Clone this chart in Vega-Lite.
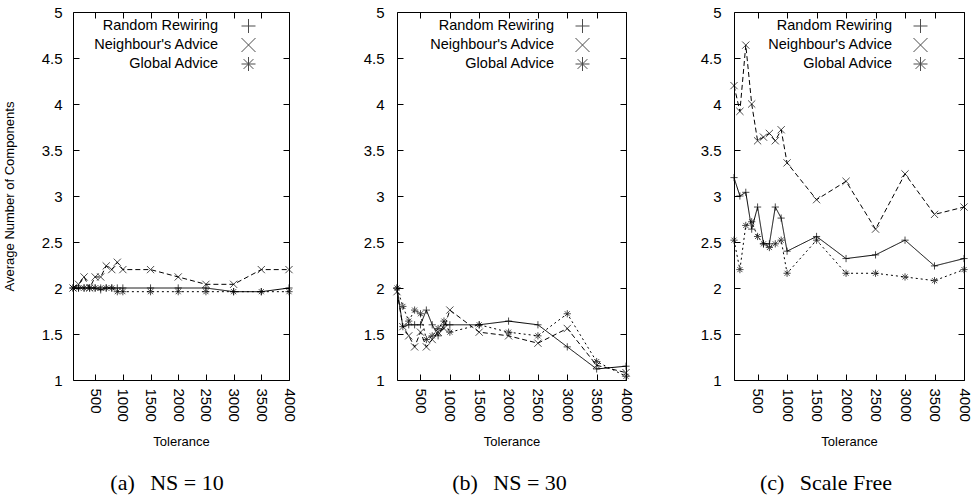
{
  "$schema": "https://vega.github.io/schema/vega-lite/v6.json",
  "padding": {"left": 2, "top": 4, "right": 2, "bottom": 2},
  "background": "white",
  "datasets": {
    "d": [
      {"panel":"a","series":"Random Rewiring","tolerance":100,"value":2.0},
      {"panel":"a","series":"Random Rewiring","tolerance":200,"value":2.0},
      {"panel":"a","series":"Random Rewiring","tolerance":300,"value":2.0},
      {"panel":"a","series":"Random Rewiring","tolerance":400,"value":2.0},
      {"panel":"a","series":"Random Rewiring","tolerance":500,"value":2.0},
      {"panel":"a","series":"Random Rewiring","tolerance":600,"value":1.98},
      {"panel":"a","series":"Random Rewiring","tolerance":700,"value":2.0},
      {"panel":"a","series":"Random Rewiring","tolerance":800,"value":2.0},
      {"panel":"a","series":"Random Rewiring","tolerance":900,"value":2.0},
      {"panel":"a","series":"Random Rewiring","tolerance":1000,"value":2.0},
      {"panel":"a","series":"Random Rewiring","tolerance":1500,"value":2.0},
      {"panel":"a","series":"Random Rewiring","tolerance":2000,"value":2.0},
      {"panel":"a","series":"Random Rewiring","tolerance":2500,"value":2.0},
      {"panel":"a","series":"Random Rewiring","tolerance":3000,"value":1.96},
      {"panel":"a","series":"Random Rewiring","tolerance":3500,"value":1.96},
      {"panel":"a","series":"Random Rewiring","tolerance":4000,"value":2.0},
      {"panel":"a","series":"Neighbour's Advice","tolerance":100,"value":2.0},
      {"panel":"a","series":"Neighbour's Advice","tolerance":200,"value":2.04},
      {"panel":"a","series":"Neighbour's Advice","tolerance":300,"value":2.12},
      {"panel":"a","series":"Neighbour's Advice","tolerance":400,"value":2.0},
      {"panel":"a","series":"Neighbour's Advice","tolerance":500,"value":2.12},
      {"panel":"a","series":"Neighbour's Advice","tolerance":600,"value":2.12},
      {"panel":"a","series":"Neighbour's Advice","tolerance":700,"value":2.24},
      {"panel":"a","series":"Neighbour's Advice","tolerance":800,"value":2.2},
      {"panel":"a","series":"Neighbour's Advice","tolerance":900,"value":2.28},
      {"panel":"a","series":"Neighbour's Advice","tolerance":1000,"value":2.2},
      {"panel":"a","series":"Neighbour's Advice","tolerance":1500,"value":2.2},
      {"panel":"a","series":"Neighbour's Advice","tolerance":2000,"value":2.12},
      {"panel":"a","series":"Neighbour's Advice","tolerance":2500,"value":2.04},
      {"panel":"a","series":"Neighbour's Advice","tolerance":3000,"value":2.04},
      {"panel":"a","series":"Neighbour's Advice","tolerance":3500,"value":2.2},
      {"panel":"a","series":"Neighbour's Advice","tolerance":4000,"value":2.2},
      {"panel":"a","series":"Global Advice","tolerance":100,"value":2.0},
      {"panel":"a","series":"Global Advice","tolerance":200,"value":2.0},
      {"panel":"a","series":"Global Advice","tolerance":300,"value":2.0},
      {"panel":"a","series":"Global Advice","tolerance":400,"value":2.0},
      {"panel":"a","series":"Global Advice","tolerance":500,"value":2.0},
      {"panel":"a","series":"Global Advice","tolerance":600,"value":2.0},
      {"panel":"a","series":"Global Advice","tolerance":700,"value":2.0},
      {"panel":"a","series":"Global Advice","tolerance":800,"value":2.0},
      {"panel":"a","series":"Global Advice","tolerance":900,"value":1.96},
      {"panel":"a","series":"Global Advice","tolerance":1000,"value":1.96},
      {"panel":"a","series":"Global Advice","tolerance":1500,"value":1.96},
      {"panel":"a","series":"Global Advice","tolerance":2000,"value":1.96},
      {"panel":"a","series":"Global Advice","tolerance":2500,"value":1.96},
      {"panel":"a","series":"Global Advice","tolerance":3000,"value":1.96},
      {"panel":"a","series":"Global Advice","tolerance":3500,"value":1.96},
      {"panel":"a","series":"Global Advice","tolerance":4000,"value":1.96},

      {"panel":"b","series":"Random Rewiring","tolerance":100,"value":2.0},
      {"panel":"b","series":"Random Rewiring","tolerance":200,"value":1.58},
      {"panel":"b","series":"Random Rewiring","tolerance":300,"value":1.6},
      {"panel":"b","series":"Random Rewiring","tolerance":400,"value":1.6},
      {"panel":"b","series":"Random Rewiring","tolerance":500,"value":1.6},
      {"panel":"b","series":"Random Rewiring","tolerance":600,"value":1.76},
      {"panel":"b","series":"Random Rewiring","tolerance":700,"value":1.6},
      {"panel":"b","series":"Random Rewiring","tolerance":800,"value":1.48},
      {"panel":"b","series":"Random Rewiring","tolerance":900,"value":1.6},
      {"panel":"b","series":"Random Rewiring","tolerance":1000,"value":1.6},
      {"panel":"b","series":"Random Rewiring","tolerance":1500,"value":1.6},
      {"panel":"b","series":"Random Rewiring","tolerance":2000,"value":1.64},
      {"panel":"b","series":"Random Rewiring","tolerance":2500,"value":1.6},
      {"panel":"b","series":"Random Rewiring","tolerance":3000,"value":1.36},
      {"panel":"b","series":"Random Rewiring","tolerance":3500,"value":1.12},
      {"panel":"b","series":"Random Rewiring","tolerance":4000,"value":1.15},
      {"panel":"b","series":"Neighbour's Advice","tolerance":100,"value":1.96},
      {"panel":"b","series":"Neighbour's Advice","tolerance":200,"value":1.58},
      {"panel":"b","series":"Neighbour's Advice","tolerance":300,"value":1.48},
      {"panel":"b","series":"Neighbour's Advice","tolerance":400,"value":1.36},
      {"panel":"b","series":"Neighbour's Advice","tolerance":500,"value":1.52},
      {"panel":"b","series":"Neighbour's Advice","tolerance":600,"value":1.36},
      {"panel":"b","series":"Neighbour's Advice","tolerance":700,"value":1.44},
      {"panel":"b","series":"Neighbour's Advice","tolerance":800,"value":1.52},
      {"panel":"b","series":"Neighbour's Advice","tolerance":900,"value":1.56},
      {"panel":"b","series":"Neighbour's Advice","tolerance":1000,"value":1.76},
      {"panel":"b","series":"Neighbour's Advice","tolerance":1500,"value":1.52},
      {"panel":"b","series":"Neighbour's Advice","tolerance":2000,"value":1.48},
      {"panel":"b","series":"Neighbour's Advice","tolerance":2500,"value":1.4},
      {"panel":"b","series":"Neighbour's Advice","tolerance":3000,"value":1.56},
      {"panel":"b","series":"Neighbour's Advice","tolerance":3500,"value":1.16},
      {"panel":"b","series":"Neighbour's Advice","tolerance":4000,"value":1.08},
      {"panel":"b","series":"Global Advice","tolerance":100,"value":2.0},
      {"panel":"b","series":"Global Advice","tolerance":200,"value":1.8},
      {"panel":"b","series":"Global Advice","tolerance":300,"value":1.64},
      {"panel":"b","series":"Global Advice","tolerance":400,"value":1.76},
      {"panel":"b","series":"Global Advice","tolerance":500,"value":1.72},
      {"panel":"b","series":"Global Advice","tolerance":600,"value":1.44},
      {"panel":"b","series":"Global Advice","tolerance":700,"value":1.48},
      {"panel":"b","series":"Global Advice","tolerance":800,"value":1.56},
      {"panel":"b","series":"Global Advice","tolerance":900,"value":1.64},
      {"panel":"b","series":"Global Advice","tolerance":1000,"value":1.52},
      {"panel":"b","series":"Global Advice","tolerance":1500,"value":1.6},
      {"panel":"b","series":"Global Advice","tolerance":2000,"value":1.52},
      {"panel":"b","series":"Global Advice","tolerance":2500,"value":1.48},
      {"panel":"b","series":"Global Advice","tolerance":3000,"value":1.72},
      {"panel":"b","series":"Global Advice","tolerance":3500,"value":1.2},
      {"panel":"b","series":"Global Advice","tolerance":4000,"value":1.04},

      {"panel":"c","series":"Random Rewiring","tolerance":100,"value":3.2},
      {"panel":"c","series":"Random Rewiring","tolerance":200,"value":3.0},
      {"panel":"c","series":"Random Rewiring","tolerance":300,"value":3.04},
      {"panel":"c","series":"Random Rewiring","tolerance":400,"value":2.64},
      {"panel":"c","series":"Random Rewiring","tolerance":500,"value":2.88},
      {"panel":"c","series":"Random Rewiring","tolerance":600,"value":2.48},
      {"panel":"c","series":"Random Rewiring","tolerance":700,"value":2.48},
      {"panel":"c","series":"Random Rewiring","tolerance":800,"value":2.88},
      {"panel":"c","series":"Random Rewiring","tolerance":900,"value":2.76},
      {"panel":"c","series":"Random Rewiring","tolerance":1000,"value":2.4},
      {"panel":"c","series":"Random Rewiring","tolerance":1500,"value":2.56},
      {"panel":"c","series":"Random Rewiring","tolerance":2000,"value":2.32},
      {"panel":"c","series":"Random Rewiring","tolerance":2500,"value":2.36},
      {"panel":"c","series":"Random Rewiring","tolerance":3000,"value":2.52},
      {"panel":"c","series":"Random Rewiring","tolerance":3500,"value":2.24},
      {"panel":"c","series":"Random Rewiring","tolerance":4000,"value":2.32},
      {"panel":"c","series":"Neighbour's Advice","tolerance":100,"value":4.2},
      {"panel":"c","series":"Neighbour's Advice","tolerance":200,"value":3.92},
      {"panel":"c","series":"Neighbour's Advice","tolerance":300,"value":4.64},
      {"panel":"c","series":"Neighbour's Advice","tolerance":400,"value":4.0},
      {"panel":"c","series":"Neighbour's Advice","tolerance":500,"value":3.6},
      {"panel":"c","series":"Neighbour's Advice","tolerance":600,"value":3.64},
      {"panel":"c","series":"Neighbour's Advice","tolerance":700,"value":3.68},
      {"panel":"c","series":"Neighbour's Advice","tolerance":800,"value":3.6},
      {"panel":"c","series":"Neighbour's Advice","tolerance":900,"value":3.72},
      {"panel":"c","series":"Neighbour's Advice","tolerance":1000,"value":3.36},
      {"panel":"c","series":"Neighbour's Advice","tolerance":1500,"value":2.96},
      {"panel":"c","series":"Neighbour's Advice","tolerance":2000,"value":3.16},
      {"panel":"c","series":"Neighbour's Advice","tolerance":2500,"value":2.64},
      {"panel":"c","series":"Neighbour's Advice","tolerance":3000,"value":3.24},
      {"panel":"c","series":"Neighbour's Advice","tolerance":3500,"value":2.8},
      {"panel":"c","series":"Neighbour's Advice","tolerance":4000,"value":2.88},
      {"panel":"c","series":"Global Advice","tolerance":100,"value":2.52},
      {"panel":"c","series":"Global Advice","tolerance":200,"value":2.2},
      {"panel":"c","series":"Global Advice","tolerance":300,"value":2.68},
      {"panel":"c","series":"Global Advice","tolerance":400,"value":2.72},
      {"panel":"c","series":"Global Advice","tolerance":500,"value":2.56},
      {"panel":"c","series":"Global Advice","tolerance":600,"value":2.48},
      {"panel":"c","series":"Global Advice","tolerance":700,"value":2.44},
      {"panel":"c","series":"Global Advice","tolerance":800,"value":2.48},
      {"panel":"c","series":"Global Advice","tolerance":900,"value":2.52},
      {"panel":"c","series":"Global Advice","tolerance":1000,"value":2.16},
      {"panel":"c","series":"Global Advice","tolerance":1500,"value":2.52},
      {"panel":"c","series":"Global Advice","tolerance":2000,"value":2.16},
      {"panel":"c","series":"Global Advice","tolerance":2500,"value":2.16},
      {"panel":"c","series":"Global Advice","tolerance":3000,"value":2.12},
      {"panel":"c","series":"Global Advice","tolerance":3500,"value":2.08},
      {"panel":"c","series":"Global Advice","tolerance":4000,"value":2.2}
    ]
  },
  "spacing": 65,
  "resolve": {"scale": {"shape": "independent", "strokeDash": "independent"}, "legend": {"shape": "independent", "strokeDash": "independent"}},
  "hconcat": [
    {
      "width": 216, "height": 368,
      "data": {"name": "d"},
      "transform": [{"filter": "datum.panel == 'a'"}],
      "title": {"text": "(a)\u2002\u2009NS = 10", "orient": "bottom", "offset": 25, "dx": -14},
      "layer": [
        {
          "mark": {"type": "line", "color": "black", "strokeWidth": 1},
          "encoding": {
            "x": {"field": "tolerance", "type": "quantitative", "scale": {"domain": [100, 4000], "nice": false, "zero": false},
                  "axis": {"orient": "bottom", "values": [500,1000,1500,2000,2500,3000,3500,4000], "format": "d", "labelAngle": 90, "tickSize": -6, "labelPadding": 14, "title": "Tolerance", "titlePadding": 14}},
            "y": {"field": "value", "type": "quantitative", "scale": {"domain": [1, 5], "nice": false, "zero": false},
                  "axis": {"orient": "left", "values": [1,1.5,2,2.5,3,3.5,4,4.5,5], "format": "~g", "tickSize": -6, "labelPadding": 17, "title": "Average Number of Components", "titlePadding": 25}},
            "strokeDash": {"field": "series", "type": "nominal", "scale": {"range": [[2,3],[5,3],[1,0]]}, "legend": null}
          }
        },
        {
          "mark": {"type": "point", "filled": false, "color": "black", "strokeWidth": 1, "size": 52},
          "encoding": {
            "x": {"field": "tolerance", "type": "quantitative", "axis": {"orient": "top", "values": [500,1000,1500,2000,2500,3000,3500,4000], "labels": false, "tickSize": -6, "title": null}},
            "y": {"field": "value", "type": "quantitative", "axis": {"orient": "right", "values": [1,1.5,2,2.5,3,3.5,4,4.5,5], "labels": false, "tickSize": -6, "title": null}},
            "shape": {"field": "series", "type": "nominal",
                      "scale": {"domain": ["Random Rewiring", "Neighbour's Advice", "Global Advice"], "range": ["M-1,0H1M0,-1V1", "M-1,-1L1,1M-1,1L1,-1", "M-1,0H1M0,-1V1M-0.7,-0.7L0.7,0.7M-0.7,0.7L0.7,-0.7"]},
                      "legend": {"title": null, "orient": "none", "legendX": 168, "legendY": 6.5, "rowPadding": 0, "padding": 0,
                                 "symbolSize": 196, "symbolStrokeColor": "black", "symbolStrokeWidth": 1,
                                 "labelOffset": -38, "labelAlign": "right", "labelFont": "Liberation Sans", "labelFontSize": 14.5, "labelColor": "black",
                                 "encode": {"symbols": {"update": {"shape": {"signal": "datum.index === 0 ? 'M-3,0H3M0,-0.5V0.5' : datum.index === 1 ? 'M-3,0H-2.43M-2,0H-1.43M-1,0H-0.6M0.6,0H1M1.43,0H2M2.43,0H3M-0.5,-0.5L0.5,0.5M-0.5,0.5L0.5,-0.5' : 'M-3,0H-2.71M-2.28,0H-1.99M-1.56,0H-1.27M-0.84,0H-0.6M0.6,0H0.84M1.27,0H1.56M1.99,0H2.28M2.71,0H3M-0.5,0H0.5M0,-0.5V0.5M-0.36,-0.36L0.36,0.36M-0.36,0.36L0.36,-0.36'"}, "stroke": {"value": "black"}, "fill": {"value": "transparent"}}}}}}
          }
        }
      ],
      "resolve": {"axis": {"x": "independent", "y": "independent"}}
    },
    {
      "width": 229, "height": 368,
      "data": {"name": "d"},
      "transform": [{"filter": "datum.panel == 'b'"}],
      "title": {"text": "(b)\u2002\u2009NS = 30", "orient": "bottom", "offset": 25, "dx": -2},
      "layer": [
        {
          "mark": {"type": "line", "color": "black", "strokeWidth": 1},
          "encoding": {
            "x": {"field": "tolerance", "type": "quantitative", "scale": {"domain": [100, 4000], "nice": false, "zero": false},
                  "axis": {"orient": "bottom", "values": [500,1000,1500,2000,2500,3000,3500,4000], "format": "d", "labelAngle": 90, "tickSize": -6, "labelPadding": 14, "title": "Tolerance", "titlePadding": 14}},
            "y": {"field": "value", "type": "quantitative", "scale": {"domain": [1, 5], "nice": false, "zero": false},
                  "axis": {"orient": "left", "values": [1,1.5,2,2.5,3,3.5,4,4.5,5], "format": "~g", "tickSize": -6, "labelPadding": 19, "title": null}},
            "strokeDash": {"field": "series", "type": "nominal", "scale": {"range": [[2,3],[5,3],[1,0]]}, "legend": null}
          }
        },
        {
          "mark": {"type": "point", "filled": false, "color": "black", "strokeWidth": 1, "size": 52},
          "encoding": {
            "x": {"field": "tolerance", "type": "quantitative", "axis": {"orient": "top", "values": [500,1000,1500,2000,2500,3000,3500,4000], "labels": false, "tickSize": -6, "title": null}},
            "y": {"field": "value", "type": "quantitative", "axis": {"orient": "right", "values": [1,1.5,2,2.5,3,3.5,4,4.5,5], "labels": false, "tickSize": -6, "title": null}},
            "shape": {"field": "series", "type": "nominal",
                      "scale": {"domain": ["Random Rewiring", "Neighbour's Advice", "Global Advice"], "range": ["M-1,0H1M0,-1V1", "M-1,-1L1,1M-1,1L1,-1", "M-1,0H1M0,-1V1M-0.7,-0.7L0.7,0.7M-0.7,0.7L0.7,-0.7"]},
                      "legend": {"title": null, "orient": "none", "legendX": 178, "legendY": 6.5, "rowPadding": 0, "padding": 0,
                                 "symbolSize": 196, "symbolStrokeColor": "black", "symbolStrokeWidth": 1,
                                 "labelOffset": -36, "labelAlign": "right", "labelFont": "Liberation Sans", "labelFontSize": 14.5, "labelColor": "black",
                                 "encode": {"symbols": {"update": {"shape": {"signal": "datum.index === 0 ? 'M-3.5,0H3.5M0,-0.5V0.5' : datum.index === 1 ? 'M-3.5,0H-2.93M-2.5,0H-1.93M-1.5,0H-0.93M-0.6,0H-0.55M0.93,0H1.5M1.93,0H2.5M2.93,0H3.5M-0.5,-0.5L0.5,0.5M-0.5,0.5L0.5,-0.5' : 'M-3.5,0H-3.21M-2.78,0H-2.49M-2.06,0H-1.77M-1.34,0H-1.05M1.05,0H1.34M1.77,0H2.06M2.49,0H2.78M3.21,0H3.5M-0.5,0H0.5M0,-0.5V0.5M-0.36,-0.36L0.36,0.36M-0.36,0.36L0.36,-0.36'"}, "stroke": {"value": "black"}, "fill": {"value": "transparent"}}}}}}
          }
        }
      ],
      "resolve": {"axis": {"x": "independent", "y": "independent"}}
    },
    {
      "width": 230, "height": 368,
      "data": {"name": "d"},
      "transform": [{"filter": "datum.panel == 'c'"}],
      "title": {"text": "(c)\u2002\u2009Scale Free", "orient": "bottom", "offset": 25, "dx": -23},
      "layer": [
        {
          "mark": {"type": "line", "color": "black", "strokeWidth": 1},
          "encoding": {
            "x": {"field": "tolerance", "type": "quantitative", "scale": {"domain": [100, 4000], "nice": false, "zero": false},
                  "axis": {"orient": "bottom", "values": [500,1000,1500,2000,2500,3000,3500,4000], "format": "d", "labelAngle": 90, "tickSize": -6, "labelPadding": 14, "title": "Tolerance", "titlePadding": 14}},
            "y": {"field": "value", "type": "quantitative", "scale": {"domain": [1, 5], "nice": false, "zero": false},
                  "axis": {"orient": "left", "values": [1,1.5,2,2.5,3,3.5,4,4.5,5], "format": "~g", "tickSize": -6, "labelPadding": 19, "title": null}},
            "strokeDash": {"field": "series", "type": "nominal", "scale": {"range": [[2,3],[5,3],[1,0]]}, "legend": null}
          }
        },
        {
          "mark": {"type": "point", "filled": false, "color": "black", "strokeWidth": 1, "size": 52},
          "encoding": {
            "x": {"field": "tolerance", "type": "quantitative", "axis": {"orient": "top", "values": [500,1000,1500,2000,2500,3000,3500,4000], "labels": false, "tickSize": -6, "title": null}},
            "y": {"field": "value", "type": "quantitative", "axis": {"orient": "right", "values": [1,1.5,2,2.5,3,3.5,4,4.5,5], "labels": false, "tickSize": -6, "title": null}},
            "shape": {"field": "series", "type": "nominal",
                      "scale": {"domain": ["Random Rewiring", "Neighbour's Advice", "Global Advice"], "range": ["M-1,0H1M0,-1V1", "M-1,-1L1,1M-1,1L1,-1", "M-1,0H1M0,-1V1M-0.7,-0.7L0.7,0.7M-0.7,0.7L0.7,-0.7"]},
                      "legend": {"title": null, "orient": "none", "legendX": 179, "legendY": 6.5, "rowPadding": 0, "padding": 0,
                                 "symbolSize": 196, "symbolStrokeColor": "black", "symbolStrokeWidth": 1,
                                 "labelOffset": -36, "labelAlign": "right", "labelFont": "Liberation Sans", "labelFontSize": 14.5, "labelColor": "black",
                                 "encode": {"symbols": {"update": {"shape": {"signal": "datum.index === 0 ? 'M-3.5,0H3.5M0,-0.5V0.5' : datum.index === 1 ? 'M-3.5,0H-2.93M-2.5,0H-1.93M-1.5,0H-0.93M-0.6,0H-0.55M0.93,0H1.5M1.93,0H2.5M2.93,0H3.5M-0.5,-0.5L0.5,0.5M-0.5,0.5L0.5,-0.5' : 'M-3.5,0H-3.21M-2.78,0H-2.49M-2.06,0H-1.77M-1.34,0H-1.05M1.05,0H1.34M1.77,0H2.06M2.49,0H2.78M3.21,0H3.5M-0.5,0H0.5M0,-0.5V0.5M-0.36,-0.36L0.36,0.36M-0.36,0.36L0.36,-0.36'"}, "stroke": {"value": "black"}, "fill": {"value": "transparent"}}}}}}
          }
        }
      ],
      "resolve": {"axis": {"x": "independent", "y": "independent"}}
    }
  ],
  "config": {
    "view": {"stroke": "black", "strokeWidth": 1},
    "axis": {
      "grid": false, "domain": false, "ticks": true, "tickColor": "black", "tickWidth": 1,
      "labelFont": "Liberation Sans", "labelFontSize": 15, "labelColor": "black",
      "labelFlush": false, "labelOverlap": false,
      "titleFont": "Liberation Sans", "titleFontSize": 13, "titleFontWeight": "normal", "titleColor": "black"
    },
    "title": {"font": "Liberation Serif", "fontSize": 22, "fontWeight": "normal", "color": "black"}
  }
}
